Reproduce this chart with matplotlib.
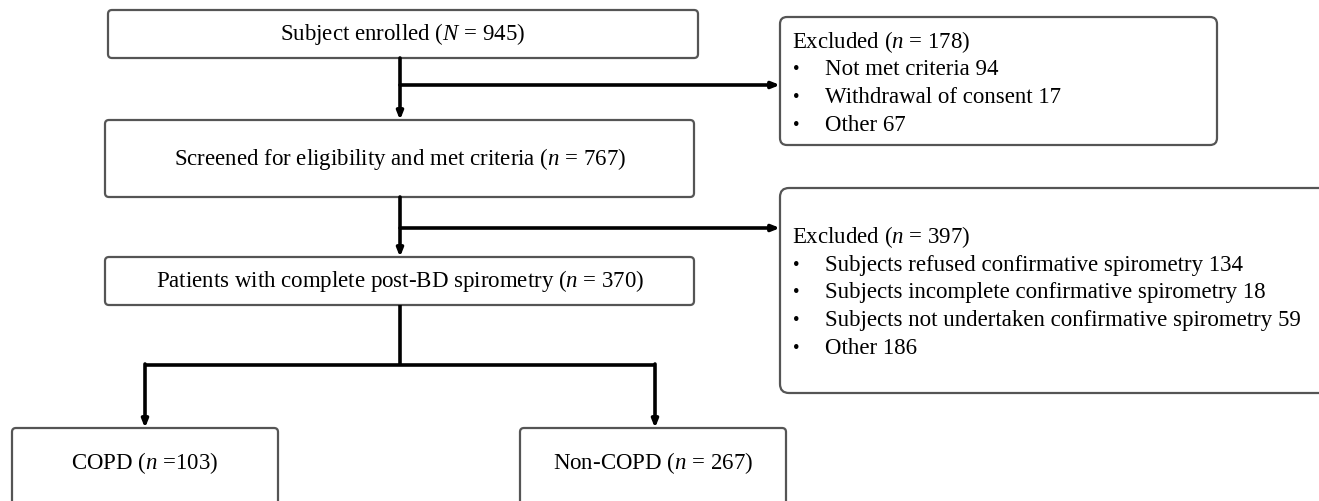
import matplotlib
matplotlib.use("Agg")
import matplotlib.pyplot as plt
from matplotlib.patches import FancyBboxPatch

plt.rcParams['font.family'] = ['Liberation Serif', 'DejaVu Serif']
plt.rcParams['mathtext.fontset'] = 'custom'
plt.rcParams['mathtext.rm'] = 'Liberation Serif'
plt.rcParams['mathtext.it'] = 'Liberation Serif:italic'

# ---- data ----
enrolled_n = 945
screened_n = 767
complete_n = 370
copd_n = 103
noncopd_n = 267
excl1_n = 178
excl1_reasons = ["Not met criteria", "Withdrawal of consent", "Other"]
excl1_counts = [94, 17, 67]
excl2_n = 397
excl2_reasons = ["Subjects refused confirmative spirometry",
                 "Subjects incomplete confirmative spirometry",
                 "Subjects not undertaken confirmative spirometry",
                 "Other"]
excl2_counts = [134, 18, 59, 186]

W, H = 1319, 501
fig = plt.figure(figsize=(W / 100, H / 100), dpi=100)
ax = fig.add_axes([0, 0, 1, 1])
ax.set_xlim(0, W)
ax.set_ylim(H, 0)
ax.axis('off')

FS = 16.5
EDGE = '#555555'


def box(x0, y0, x1, y1, r=4, lw=1.6):
    p = FancyBboxPatch((x0 + r, y0 + r), (x1 - x0) - 2 * r, (y1 - y0) - 2 * r,
                       boxstyle=f"round,pad={r},rounding_size={r}",
                       fc='white', ec=EDGE, lw=lw, zorder=2, clip_on=False)
    ax.add_patch(p)


def line(xs, ys):
    ax.plot(xs, ys, color='black', lw=2.6, solid_capstyle='butt', zorder=3)


def arrow(x0, y0, x1, y1):
    ax.annotate('', xy=(x1, y1), xytext=(x0, y0),
                arrowprops=dict(arrowstyle='-|>,head_length=0.45,head_width=0.18',
                                color='black', lw=2.6, shrinkA=0, shrinkB=0),
                zorder=3)


# main boxes
box(108, 10, 698, 58)
ax.text(403, 34, f"Subject enrolled ($N$ = {enrolled_n})", ha='center', va='center', fontsize=FS, zorder=4)
box(105, 120, 694, 197)
ax.text(400, 159, f"Screened for eligibility and met criteria ($n$ = {screened_n})", ha='center', va='center', fontsize=FS, zorder=4)
box(105, 257, 694, 305)
ax.text(400, 281, f"Patients with complete post-BD spirometry ($n$ = {complete_n})", ha='center', va='center', fontsize=FS, zorder=4)
box(12, 428, 278, 515)
ax.text(145, 463, f"COPD ($n$ ={copd_n})", ha='center', va='center', fontsize=FS, zorder=4)
box(520, 428, 786, 515)
ax.text(653, 463, f"Non-COPD ($n$ = {noncopd_n})", ha='center', va='center', fontsize=FS, zorder=4)

# exclusion boxes
box(780, 17, 1217, 145, r=7)
ax.text(792, 42, f"Excluded ($n$ = {excl1_n})", ha='left', va='center', fontsize=FS, zorder=4)
for i, (reason, c) in enumerate(zip(excl1_reasons, excl1_counts)):
    y = 69 + i * 28
    ax.text(793, y, "•", ha='left', va='center', fontsize=FS - 3, zorder=4)
    ax.text(825, y, f"{reason} {c}", ha='left', va='center', fontsize=FS, zorder=4)

box(780, 188, 1335, 393, r=9)
ax.text(792, 237, f"Excluded ($n$ = {excl2_n})", ha='left', va='center', fontsize=FS, zorder=4)
for i, (reason, c) in enumerate(zip(excl2_reasons, excl2_counts)):
    y = 265 + i * 27.7
    ax.text(793, y, "•", ha='left', va='center', fontsize=FS - 3, zorder=4)
    ax.text(825, y, f"{reason} {c}", ha='left', va='center', fontsize=FS, zorder=4)

# connectors
arrow(400, 58, 400, 120)
arrow(400, 85, 780, 85)
arrow(400, 197, 400, 257)
arrow(400, 228, 780, 228)
line([400, 400], [305, 365])
line([145, 655], [365, 365])
arrow(145, 364, 145, 428)
arrow(655, 364, 655, 428)

fig.savefig("out.png", dpi=100, facecolor='white')
